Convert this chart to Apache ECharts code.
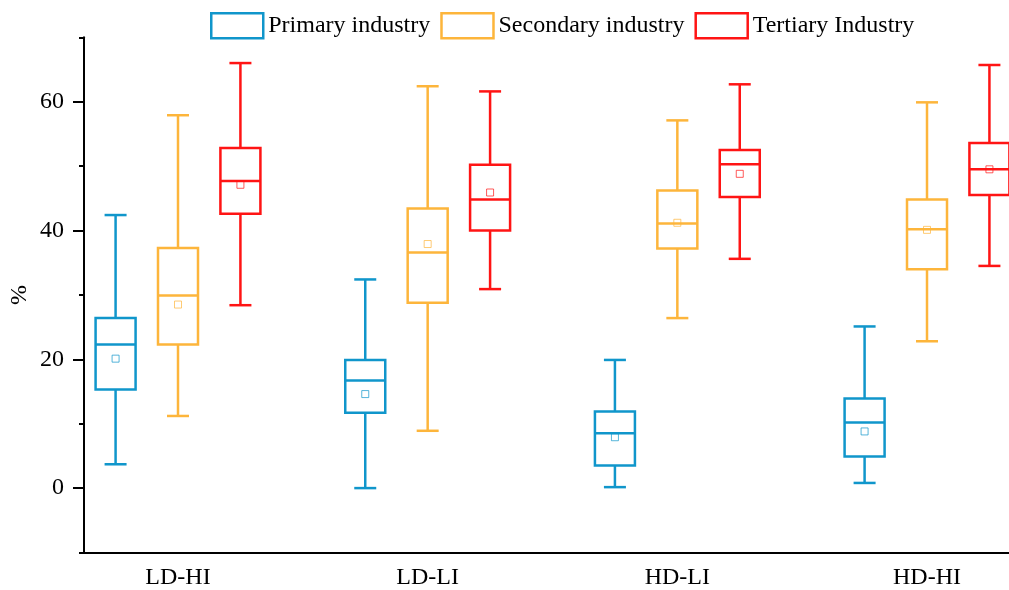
<!DOCTYPE html>
<html>
<head>
<meta charset="utf-8">
<script src="https://cdn.jsdelivr.net/npm/echarts@6/dist/echarts.min.js"></script>
<style>html,body{margin:0;padding:0;background:#fff;}#c{width:1009px;height:590px;}</style>
</head>
<body>
<div id="c"></div>
<script>
// ---- data ----
var categories = ['LD-HI', 'LD-LI', 'HD-LI', 'HD-HI'];
var seriesNames = ['Primary industry', 'Secondary industry', 'Tertiary Industry'];
// [min, Q1, median, Q3, max]
var primaryBox = [[3.7, 15.3, 22.3, 26.4, 42.4], [0.0, 11.7, 16.7, 19.9, 32.4], [0.15, 3.5, 8.5, 11.9, 19.9], [0.8, 4.9, 10.2, 13.9, 25.1]];
var primaryMean = [20.1, 14.6, 7.9, 8.8];
var secondaryBox = [[11.2, 22.3, 29.9, 37.3, 57.9], [8.9, 28.8, 36.6, 43.4, 62.4], [26.4, 37.2, 41.1, 46.2, 57.1], [22.8, 34.0, 40.2, 44.8, 59.9]];
var secondaryMean = [28.5, 37.9, 41.2, 40.1];
var tertiaryBox = [[28.4, 42.6, 47.7, 52.8, 66.0], [30.9, 40.0, 44.8, 50.2, 61.6], [35.6, 45.2, 50.3, 52.5, 62.7], [34.5, 45.5, 49.5, 53.6, 65.7]];
var tertiaryMean = [47.1, 45.9, 48.8, 49.5];
var yMajorTicks = [0, 20, 40, 60];
var yMinorTicks = [-10, 10, 30, 50, 70];

// ---- style ----
var colors = ['#1096CB', '#FDB53B', '#FF1414'];
var offsets = [-0.25, 0, 0.25];
var FONT = 'Liberation Serif, Times New Roman, serif';

function buildData(box, mean) {
  return box.map(function (b, i) { return [i + 1].concat(b).concat([mean[i]]); });
}

function makeRender(color, off) {
  return function (params, api) {
    var x = api.value(0) + off;
    var p = function (v) { return api.coord([x, v]); };
    var lo = p(api.value(1)), q1 = p(api.value(2)), md = p(api.value(3)),
        q3 = p(api.value(4)), hi = p(api.value(5)), mn = p(api.value(6));
    var cx = lo[0], bw = 20, cw = 11, ms = 3.5;
    var ls = { stroke: color, lineWidth: 2.5, fill: null };
    return {
      type: 'group',
      children: [
        { type: 'line', shape: { x1: cx, y1: hi[1], x2: cx, y2: q3[1] }, style: ls },
        { type: 'line', shape: { x1: cx, y1: q1[1], x2: cx, y2: lo[1] }, style: ls },
        { type: 'line', shape: { x1: cx - cw, y1: hi[1], x2: cx + cw, y2: hi[1] }, style: ls },
        { type: 'line', shape: { x1: cx - cw, y1: lo[1], x2: cx + cw, y2: lo[1] }, style: ls },
        { type: 'rect', shape: { x: cx - bw, y: q3[1], width: 2 * bw, height: q1[1] - q3[1] }, style: { stroke: color, lineWidth: 2.5, fill: '#fff' } },
        { type: 'line', shape: { x1: cx - bw, y1: md[1], x2: cx + bw, y2: md[1] }, style: ls },
        { type: 'rect', shape: { x: cx - ms, y: mn[1] - ms, width: 2 * ms, height: 2 * ms }, style: { stroke: color, lineWidth: 1, fill: null, opacity: 0.7 } }
      ]
    };
  };
}

var boxes = [primaryBox, secondaryBox, tertiaryBox];
var means = [primaryMean, secondaryMean, tertiaryMean];

var series = seriesNames.map(function (name, k) {
  return {
    name: name,
    type: 'custom',
    xAxisIndex: 0,
    yAxisIndex: 0,
    clip: false,
    itemStyle: { color: colors[k] },
    renderItem: makeRender(colors[k], offsets[k]),
    encode: { x: 0, y: [1, 2, 3, 4, 5, 6] },
    data: buildData(boxes[k], means[k])
  };
});

var chart = echarts.init(document.getElementById('c'), null, { renderer: 'canvas' });
chart.setOption({
  animation: false,
  backgroundColor: '#fff',
  legend: {
    left: 205,
    top: 7,
    itemWidth: 52,
    itemHeight: 25,
    itemGap: 10,
    textStyle: { fontFamily: FONT, fontSize: 24, color: '#000' },
    data: seriesNames.map(function (n, k) {
      return { name: n, icon: 'rect', itemStyle: { color: '#fff', borderColor: colors[k], borderWidth: 2.5 } };
    })
  },
  grid: { left: 84, right: 0, top: 37.3, bottom: 37.5, outerBoundsMode: 'none', containLabel: false },
  xAxis: {
    type: 'value',
    min: 0.6235,
    max: 4.3284,
    splitLine: { show: false },
    axisLine: { show: true, onZero: false, lineStyle: { color: '#000', width: 2 } },
    axisTick: { show: false },
    axisLabel: {
      customValues: [1, 2, 3, 4],
      formatter: function (v) { return categories[Math.round(v) - 1] || ''; },
      fontFamily: FONT, fontSize: 24, color: '#000', margin: 13
    }
  },
  yAxis: [{
    type: 'value',
    min: -10,
    max: 70,
    interval: 10,
    name: '%',
    nameLocation: 'middle',
    nameGap: 52,
    nameMoveOverlap: false,
    nameTextStyle: { fontFamily: FONT, fontSize: 24, color: '#000' },
    splitLine: { show: false },
    axisLine: { show: true, onZero: false, lineStyle: { color: '#000', width: 2 } },
    axisTick: { show: true, customValues: yMajorTicks, length: 11, lineStyle: { color: '#000', width: 2 } },
    axisLabel: { customValues: yMajorTicks, fontFamily: FONT, fontSize: 24, color: '#000', margin: 20 }
  }, {
    type: 'value',
    min: -10,
    max: 70,
    interval: 10,
    position: 'left',
    splitLine: { show: false },
    axisLine: { show: false, onZero: false },
    axisTick: { show: true, customValues: yMinorTicks, length: 5, lineStyle: { color: '#000', width: 2 } },
    axisLabel: { show: false }
  }],
  series: series
});
</script>
</body>
</html>
